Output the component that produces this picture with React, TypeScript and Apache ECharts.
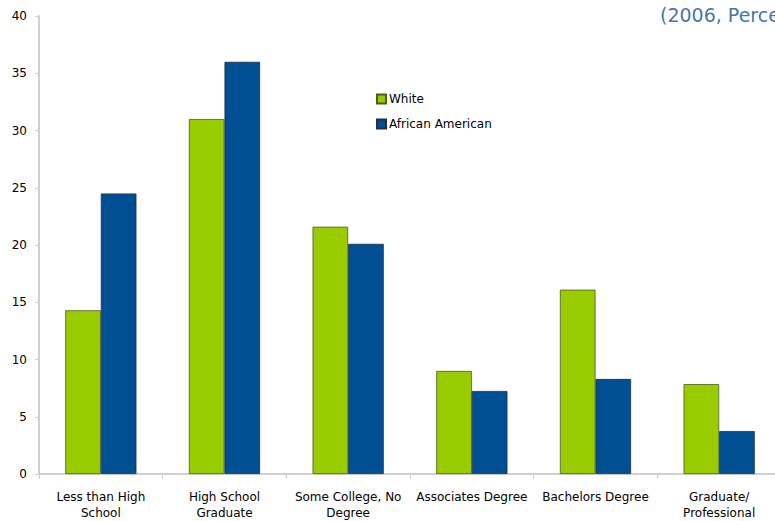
import React, { useEffect, useRef } from "react";
import * as echarts from "echarts";

const categories = [
  "Less than High\nSchool",
  "High School\nGraduate",
  "Some College, No\nDegree",
  "Associates Degree",
  "Bachelors Degree",
  "Graduate/\nProfessional",
];
const whiteValues = [14.3, 31.0, 21.6, 9.0, 16.1, 7.85];
const africanAmericanValues = [24.5, 36.0, 20.1, 7.25, 8.3, 3.75];
const seriesNames = ["White", "African American"];
const titleText = "(2006, Percent)";

const FONT = "'DejaVu Sans', sans-serif";

export default function App() {
  const ref = useRef<HTMLDivElement>(null);
  useEffect(() => {
    if (!ref.current) return;
    const chart = echarts.init(ref.current, undefined, { renderer: "svg" });
    chart.setOption({
      animation: false,
      backgroundColor: "#ffffff",
      title: {
        text: titleText,
        left: 655,
        top: 0,
        textStyle: { color: "#4a74ad", fontSize: 19, fontWeight: "normal", fontFamily: FONT },
      },
      legend: {
        orient: "vertical",
        left: 371,
        top: 88,
        itemWidth: 9,
        itemHeight: 9,
        itemGap: 13,
        icon: "rect",
        textStyle: { fontSize: 12, color: "#000", fontFamily: FONT, padding: [0, 0, 0, -2] },
        data: seriesNames,
      },
      grid: { left: 39, top: 16, width: 742, height: 458, containLabel: false, outerBoundsMode: "none" },
      xAxis: {
        type: "category",
        data: categories,
        axisLine: { lineStyle: { color: "#cfcfcf", width: 2 } },
        axisTick: { show: true, length: 5, lineStyle: { color: "#cfcfcf" } },
        axisLabel: { fontSize: 12, color: "#000", fontFamily: FONT, margin: 15, lineHeight: 16, interval: 0 },
      },
      yAxis: {
        type: "value",
        min: 0,
        max: 40,
        interval: 5,
        splitLine: { show: false },
        axisLine: { show: true, lineStyle: { color: "#cfcfcf", width: 2 } },
        axisTick: { show: true, length: 4, lineStyle: { color: "#cfcfcf" } },
        axisLabel: { fontSize: 12, color: "#000", fontFamily: FONT, margin: 12 },
      },
      series: [
        {
          name: seriesNames[0],
          type: "bar",
          data: whiteValues,
          barWidth: 35.6,
          barGap: "0%",
          itemStyle: { color: "#99cc00", borderColor: "#4d5a1e", borderWidth: 0.8 },
        },
        {
          name: seriesNames[1],
          type: "bar",
          data: africanAmericanValues,
          barWidth: 35.6,
          barGap: "0%",
          itemStyle: { color: "#004f93", borderColor: "#1c2f4a", borderWidth: 0.8 },
        },
      ],
    });
    return () => chart.dispose();
  }, []);
  return <div ref={ref} style={{ width: 775, height: 521, position: "absolute", left: 0, top: 0 }} />;
}
